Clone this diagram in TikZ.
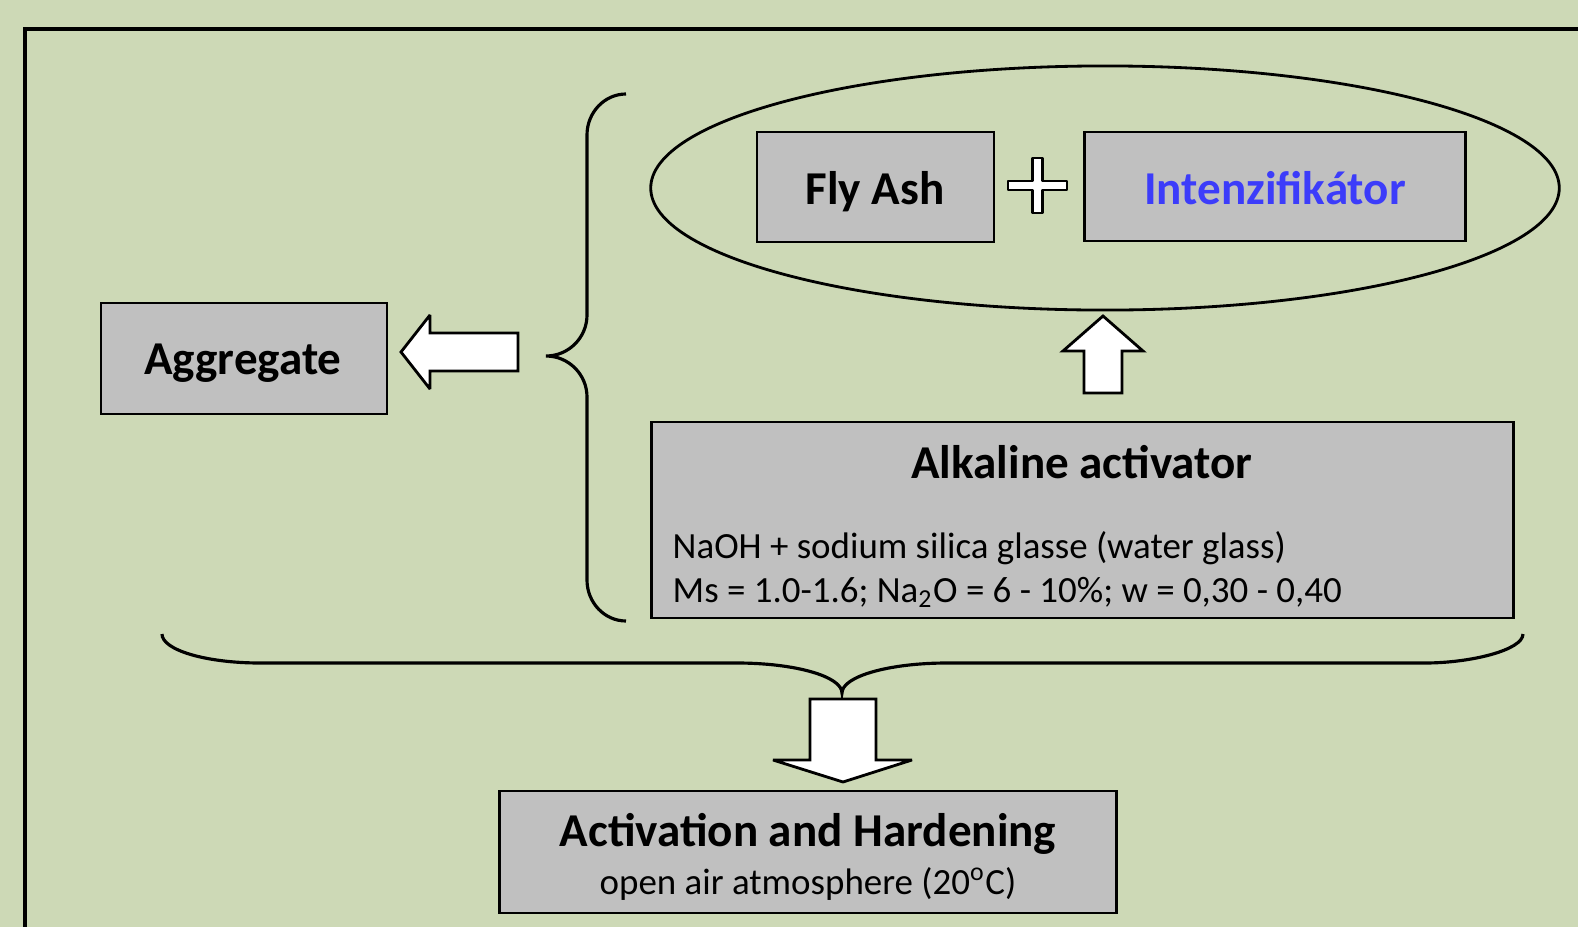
\documentclass[tikz,border=0pt]{standalone}
\usepackage{fontspec}
\setmainfont{Carlito}
\usepackage{xcolor}
\usetikzlibrary{calc, positioning, shapes.geometric}
\definecolor{bggreen}{RGB}{205,217,182}
\definecolor{boxgray}{RGB}{192,192,192}
\definecolor{intblue}{RGB}{60,60,250}

\begin{document}
\begin{tikzpicture}[x = 0.01cm, y = -0.01cm,
  box/.style = {draw, fill = boxgray, line width = 0.8pt, inner sep = 0pt},
  head/.style = {font = \bfseries\fontsize{13.4}{16}\selectfont, inner sep = 0pt},
  txt/.style = {font = \fontsize{10.5}{12.6}\selectfont, inner sep = 0pt},
  blk/.style = {draw, fill = white, line width = 0.8pt, line join = miter, miter limit = 3},
  brc/.style = {draw, line width = 0.9pt}]
\useasboundingbox (0,0) rectangle (1578,927);
\fill[bggreen] (0,0) rectangle (1578,927);
\clip (0,0) rectangle (1578,927);
\draw[line width = 1pt] (25,960) -- (25,29) -- (1600,29);

% mixture
\node[draw, ellipse, line width = 0.8pt, minimum width = 9.08cm, minimum height = 2.44cm] (mix) at (1105,188) {};
\node[box, minimum width = 2.37cm, minimum height = 1.10cm] (fly) at (875.5,187) {};
\node[head, anchor = base] (flyT) at (875,204) {Fly Ash};
\node[box, minimum width = 3.80cm, minimum height = 1.09cm] (int) at (1275,186.5) {};
\node[head, anchor = base, text = intblue] (intT) at (1275,204) {Intenzifik\'ator};
\draw[blk, line join = round] (1008,181) -- (1032.5,181) -- (1032.5,158) -- (1042.5,158) -- (1042.5,181) -- (1067,181)
  -- (1067,190) -- (1042.5,190) -- (1042.5,213) -- (1032.5,213) -- (1032.5,190) -- (1008,190) -- cycle;

% activator
\node[box, minimum width = 8.61cm, minimum height = 1.96cm] (alk) at (1082.5,520) {};
\node[head, anchor = base] (alkT) at (1082,478) {Alkaline activator};
\node[txt, anchor = base west] (alkA) at (672,558) {NaOH + sodium silica glasse (water glass)};
\node[txt, anchor = base west] (alkB) at (672,602) {Ms = 1.0-1.6; Na\textsubscript{2}O = 6 - 10\%; w = 0,30 - 0,40};
\draw[blk] (1103,316) -- (1143,351) -- (1122,351) -- (1122,393) -- (1084,393) -- (1084,351) -- (1063,351) -- cycle;

% aggregate
\node[box, minimum width = 2.86cm, minimum height = 1.11cm] (agg) at (244,358.5) {};
\node[head, anchor = base] (aggT) at (243,374) {Aggregate};
\draw[blk] (401,352) -- (430,315) -- (430,333) -- (518,333) -- (518,371) -- (430,371) -- (430,389) -- cycle;
\draw[brc] (626,94) .. controls (604.5,94) and (587,112.4) .. (587,135) -- (587,315)
  .. controls (587,337.6) and (568.6,356) .. (546,356)
  .. controls (568.6,356) and (587,374.4) .. (587,397) -- (587,580)
  .. controls (587,602.6) and (604.5,621) .. (626,621);

% hardening
\draw[brc] (162,634) .. controls (162,650) and (205.9,663) .. (260,663) -- (737,663)
  .. controls (795,663) and (842,676.4) .. (842,693)
  .. controls (842,676.4) and (889,663) .. (947,663) -- (1425,663)
  .. controls (1470.9,663) and (1523,650) .. (1523,634);
\draw[blk] (843,782) -- (773,760) -- (810,760) -- (810,699) -- (876,699) -- (876,760) -- (912,760) -- cycle;
\node[box, minimum width = 6.16cm, minimum height = 1.22cm] (act) at (808,852) {};
\node[head, anchor = base] (actT) at (808,846) {Activation and Hardening};
\node[txt, anchor = base] (actS) at (808,894) {open air atmosphere (20\textsuperscript{o}C)};
\end{tikzpicture}
\end{document}
